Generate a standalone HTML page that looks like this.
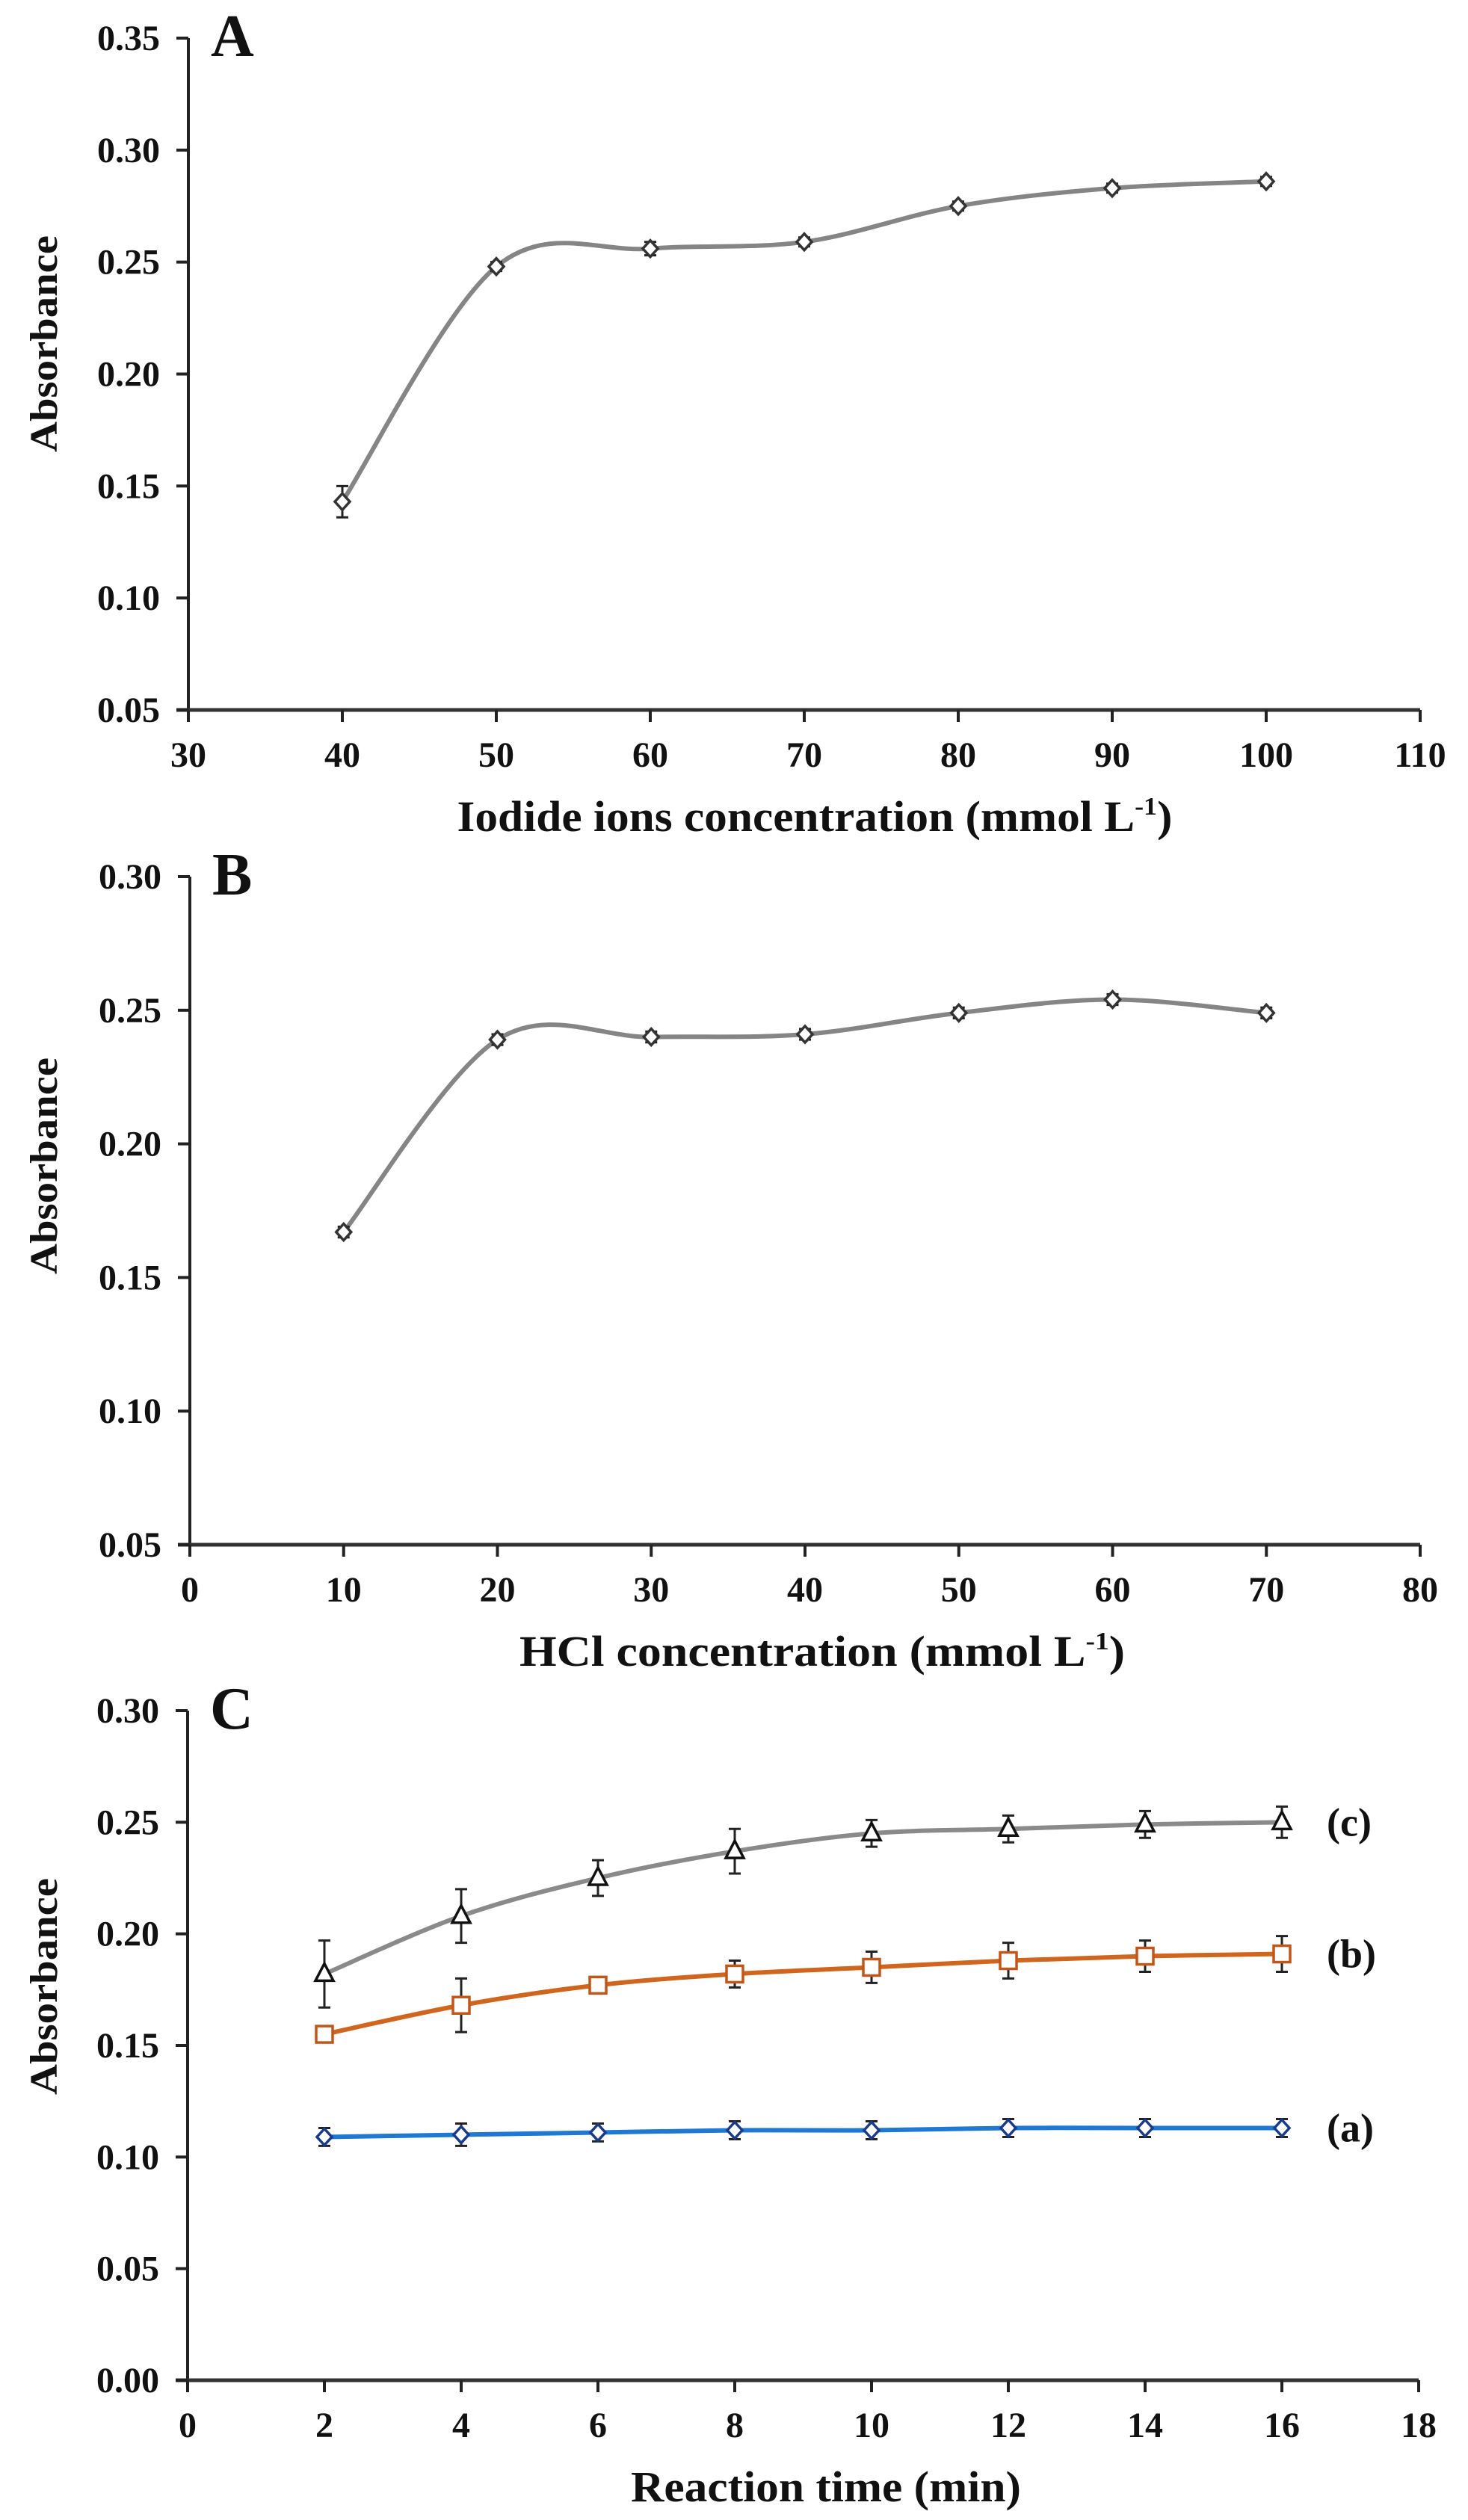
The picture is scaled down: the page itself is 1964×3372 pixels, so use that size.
<!DOCTYPE html>
<html><head><meta charset="utf-8"><style>
html,body{margin:0;padding:0;background:#fff}
svg{display:block}
text{font-family:"Liberation Serif",serif;font-weight:bold;fill:#111}
</style></head><body>
<svg id="fig" width="1964" height="3372" viewBox="0 0 1964 3372"></svg>
<script>
// ---- Panel A data ----
const aX = [40,50,60,70,80,90,100];
const aY = [0.143,0.248,0.256,0.259,0.275,0.283,0.286];
const aErr = [0.007,0.002,0.003,0.002,0.002,0.002,0.002];
const aXTicks = [30,40,50,60,70,80,90,100,110];
const aYTicks = [0.05,0.10,0.15,0.20,0.25,0.30,0.35];
// ---- Panel B data ----
const bX = [10,20,30,40,50,60,70];
const bY = [0.167,0.239,0.240,0.241,0.249,0.254,0.249];
const bErr = [0.002,0.002,0.002,0.002,0.002,0.002,0.002];
const bXTicks = [0,10,20,30,40,50,60,70,80];
const bYTicks = [0.05,0.10,0.15,0.20,0.25,0.30];
// ---- Panel C data ----
const cX = [2,4,6,8,10,12,14,16];
const cSeriesA = [0.109,0.110,0.111,0.112,0.112,0.113,0.113,0.113];
const cErrA = [0.004,0.005,0.004,0.004,0.004,0.004,0.004,0.004];
const cSeriesB = [0.155,0.168,0.177,0.182,0.185,0.188,0.190,0.191];
const cErrB = [0.002,0.012,0.002,0.006,0.007,0.008,0.007,0.008];
const cSeriesC = [0.182,0.208,0.225,0.237,0.245,0.247,0.249,0.250];
const cErrC = [0.015,0.012,0.008,0.010,0.006,0.006,0.006,0.007];
const cXTicks = [0,2,4,6,8,10,12,14,16,18];
const cYTicks = [0.00,0.05,0.10,0.15,0.20,0.25,0.30];

const NS='http://www.w3.org/2000/svg';
const svg=document.getElementById('fig');
function mk(tag,attrs,parent){const e=document.createElementNS(NS,tag);for(const k in attrs)e.setAttribute(k,attrs[k]);(parent||svg).appendChild(e);return e;}

function smoothPath(pts){
  let d='M'+pts[0][0]+','+pts[0][1];
  for(let i=0;i<pts.length-1;i++){
    const p0=pts[Math.max(0,i-1)],p1=pts[i],p2=pts[i+1],p3=pts[Math.min(pts.length-1,i+2)];
    const t=1/6;
    const c1x=p1[0]+(p2[0]-p0[0])*t,c1y=p1[1]+(p2[1]-p0[1])*t;
    const c2x=p2[0]-(p3[0]-p1[0])*t,c2y=p2[1]-(p3[1]-p1[1])*t;
    d+=' C'+c1x+','+c1y+' '+c2x+','+c2y+' '+p2[0]+','+p2[1];
  }
  return d;
}

function panel(cfg){
  const g=mk('g',{});
  
  
  const xs=v=>cfg.x0+(v-cfg.xmin)/(cfg.xmax-cfg.xmin)*(cfg.x1-cfg.x0);
  const ys=v=>cfg.y0-(v-cfg.ymin)/(cfg.ymax-cfg.ymin)*(cfg.y0-cfg.y1);
  // axes
  const ya=mk('line',{x1:cfg.x0,y1:cfg.y1,x2:cfg.x0,y2:cfg.y0,stroke:'#222','stroke-width':4},g);
  
  
  const xa=mk('line',{x1:cfg.x0-16,y1:cfg.y0,x2:cfg.x1,y2:cfg.y0,stroke:'#333','stroke-width':5},g);
  
  
  cfg.yTicks.forEach(v=>{
    const y=ys(v);
    const tk=mk('line',{x1:cfg.x0-16,y1:y,x2:cfg.x0,y2:y,stroke:'#222','stroke-width':4},g);
    
    
    const t=mk('text',{x:cfg.x0-38,y:y+16,'text-anchor':'end','font-size':48},g);
    t.textContent=v.toFixed(2);
    
    
  });
  cfg.xTicks.forEach(v=>{
    const x=xs(v);
    const tk=mk('line',{x1:x,y1:cfg.y0,x2:x,y2:cfg.y0+16,stroke:'#222','stroke-width':4},g);
    
    
    const t=mk('text',{x:x,y:cfg.y0+76,'text-anchor':'middle','font-size':48},g);
    t.textContent=String(v);
    
    
  });
  // letter
  const L=mk('text',{x:cfg.x0+30,y:cfg.y1+24,'font-size':80},g);
  L.textContent=cfg.letter;
  
  
  // y title
  const cy=cfg.ytitleY;
  const yt=mk('text',{x:0,y:0,'text-anchor':'middle','font-size':52,transform:'translate(76,'+cy+') rotate(-90)',textLength:290,lengthAdjust:'spacingAndGlyphs'},g);
  yt.textContent='Absorbance';
  
  
  // x title
  const xt=mk('text',{x:cfg.xtitleX,y:cfg.y0+162,'text-anchor':'middle','font-size':58,textLength:cfg.xtitleLen,lengthAdjust:'spacingAndGlyphs'},g);
  
  
  xt.appendChild(document.createTextNode(cfg.xtitle));
  if(cfg.sup){
    const s=mk('tspan',{'font-size':34,dy:-22},xt);s.textContent='-1';
    const s2=mk('tspan',{dy:22},xt);s2.textContent=')';
  }
  // series
  cfg.series.forEach(s=>{
    const pts=cfg.xs.map((v,i)=>[xs(v),ys(s.y[i])]);
    const p=mk('path',{d:smoothPath(pts),fill:'none',stroke:s.color,'stroke-width':6},g);
    
    
    pts.forEach((pt,i)=>{
      const eTop=ys(s.y[i]+s.err[i]),eBot=ys(s.y[i]-s.err[i]);
      const eb=mk('path',{d:'M'+pt[0]+','+eTop+'V'+eBot+'M'+(pt[0]-8)+','+eTop+'h16M'+(pt[0]-8)+','+eBot+'h16',stroke:'#222','stroke-width':3,fill:'none'},g);
      
      
      let m;
      const [x,y]=pt;
      if(s.marker==='diamond') m=mk('polygon',{points:(x)+','+(y-11)+' '+(x+10)+','+y+' '+x+','+(y+11)+' '+(x-10)+','+y,fill:'#fff',stroke:s.mcolor,'stroke-width':3.5},g);
      else if(s.marker==='square') m=mk('rect',{x:x-11,y:y-11,width:22,height:22,fill:'#fff',stroke:s.mcolor,'stroke-width':3.5},g);
      else m=mk('polygon',{points:x+','+(y-14)+' '+(x+12)+','+(y+9)+' '+(x-12)+','+(y+9),fill:'#fff',stroke:s.mcolor,'stroke-width':3.5},g);
      
      
    });
    if(s.label){
      const t=mk('text',{x:1775,y:ys(s.y[s.y.length-1])+18,'font-size':54},g);
      t.textContent=s.label;
      
      
    }
  });
}

panel({name:'panel-a',letter:'A',x0:252,x1:1900,y0:950,y1:51,xmin:30,xmax:110,ymin:0.05,ymax:0.35,
  xTicks:aXTicks,yTicks:aYTicks,xs:aX,ytitleY:460,xtitleX:1090,xtitleLen:957,xtitle:'Iodide ions concentration (mmol L',sup:true,
  series:[{name:'iodide',y:aY,err:aErr,color:'#858585',marker:'diamond',mcolor:'#333'}]});
panel({name:'panel-b',letter:'B',x0:254,x1:1900,y0:2067,y1:1173,xmin:0,xmax:80,ymin:0.05,ymax:0.30,
  xTicks:bXTicks,yTicks:bYTicks,xs:bX,ytitleY:1560,xtitleX:1100,xtitleLen:810,xtitle:'HCl concentration (mmol L',sup:true,
  series:[{name:'hcl',y:bY,err:bErr,color:'#858585',marker:'diamond',mcolor:'#333'}]});
panel({name:'panel-c',letter:'C',x0:251,x1:1898,y0:3185,y1:2289,xmin:0,xmax:18,ymin:0,ymax:0.30,
  xTicks:cXTicks,yTicks:cYTicks,xs:cX,ytitleY:2658,xtitleX:1105,xtitleLen:522,xtitle:'Reaction time (min)',sup:false,
  series:[
    {name:'series-a',y:cSeriesA,err:cErrA,color:'#1f78d1',marker:'diamond',mcolor:'#1a3a8a',label:'(a)'},
    {name:'series-b',y:cSeriesB,err:cErrB,color:'#d0661e',marker:'square',mcolor:'#c0561a',label:'(b)'},
    {name:'series-c',y:cSeriesC,err:cErrC,color:'#8a8a8a',marker:'triangle',mcolor:'#111',label:'(c)'}
  ]});
</script>
</body></html>
